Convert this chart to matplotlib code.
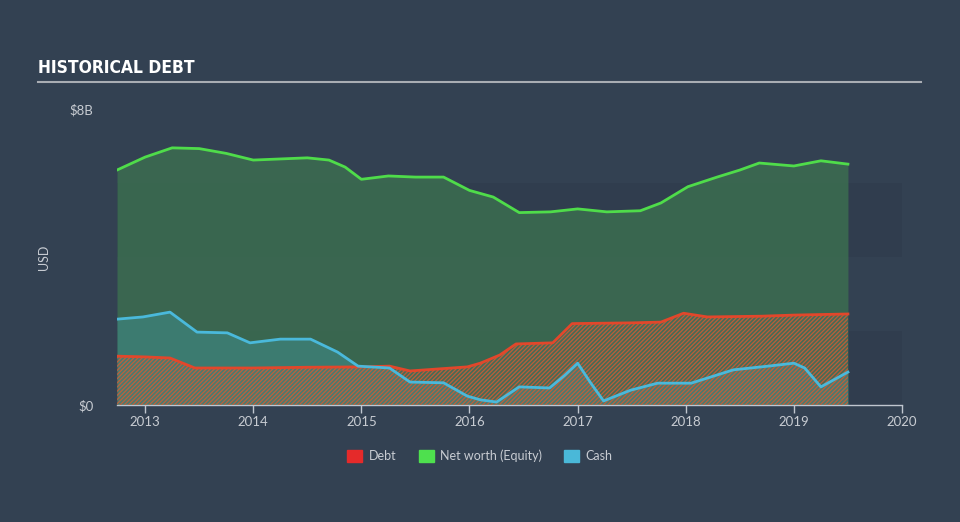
import numpy as np
import matplotlib.pyplot as plt
from matplotlib.patches import Patch

# values in $B
eq_x = [2012.74, 2013.0, 2013.25, 2013.5, 2013.75, 2014.0, 2014.25, 2014.5, 2014.7, 2014.85,
        2015.0, 2015.25, 2015.5, 2015.76, 2016.0, 2016.22, 2016.46, 2016.75, 2017.0, 2017.27,
        2017.58, 2017.77, 2018.02, 2018.29, 2018.5, 2018.68, 2019.0, 2019.25, 2019.5]
equity = [6.35, 6.7, 6.95, 6.93, 6.8, 6.62, 6.65, 6.68, 6.62, 6.43,
          6.1, 6.19, 6.16, 6.16, 5.8, 5.62, 5.2, 5.22, 5.3, 5.22,
          5.25, 5.46, 5.9, 6.16, 6.35, 6.54, 6.46, 6.6, 6.51]

debt_x = [2012.74, 2013.0, 2013.23, 2013.46, 2014.0, 2014.5, 2015.0, 2015.26, 2015.45, 2015.98,
          2016.1, 2016.28, 2016.43, 2016.77, 2016.95, 2017.5, 2017.77, 2017.98, 2018.2, 2018.7,
          2019.0, 2019.5]
debt = [1.32, 1.3, 1.27, 1.0, 1.0, 1.02, 1.03, 1.05, 0.92, 1.03,
        1.13, 1.35, 1.65, 1.68, 2.2, 2.22, 2.24, 2.48, 2.38, 2.4,
        2.43, 2.46]

cash_x = [2012.74, 2012.98, 2013.23, 2013.48, 2013.76, 2013.97, 2014.25, 2014.53, 2014.78, 2014.97,
          2015.26, 2015.45, 2015.76, 2015.98, 2016.1, 2016.25, 2016.46, 2016.74, 2016.88, 2017.0,
          2017.12, 2017.24, 2017.49, 2017.74, 2018.05, 2018.44, 2018.76, 2019.0, 2019.1, 2019.25,
          2019.5]
cash = [2.32, 2.38, 2.51, 1.97, 1.95, 1.68, 1.78, 1.78, 1.43, 1.05,
        1.0, 0.62, 0.6, 0.24, 0.14, 0.08, 0.49, 0.46, 0.8, 1.13,
        0.6, 0.11, 0.4, 0.59, 0.59, 0.95, 1.05, 1.13, 1.0, 0.49,
        0.89]

years = [2013, 2014, 2015, 2016, 2017, 2018, 2019, 2020]

bg = '#334152'
green = '#4fdc4a'
red = '#e2472b'
blue = '#4ab9db'
txt = '#c8ccd2'

plt.rcParams['font.family'] = ['Lato', 'DejaVu Sans']
plt.rcParams['hatch.linewidth'] = 0.9

fig = plt.figure(figsize=(9.6, 5.22), dpi=100, facecolor=bg)
ax = fig.add_axes([117 / 960, 117 / 522, 785 / 960, 296 / 522])
ax.set_facecolor(bg)
ax.set_xlim(2012.74, 2020)
ax.set_ylim(0, 8)

# faint background bands
for lo in [0, 4]:
    ax.axhspan(lo, lo + 2, color='#2c3847', alpha=0.35, lw=0, zorder=0)

ax.fill_between(eq_x, 0, equity, color='#3b6b50', alpha=0.9, lw=0, zorder=1)
ax.fill_between(cash_x, 0, cash, color='#3f8e8c', alpha=0.55, lw=0, zorder=2)
ax.fill_between(debt_x, 0, debt, facecolor=(0.5, 0.5, 0.45, 0.2), edgecolor=(0.82, 0.36, 0.2, 0.85),
                hatch='////////', lw=0, zorder=3)

ax.plot(eq_x, equity, color=green, lw=2, zorder=5)
ax.plot(debt_x, debt, color=red, lw=2, zorder=5)
ax.plot(cash_x, cash, color=blue, lw=2, zorder=6)

for s in ['top', 'right', 'left']:
    ax.spines[s].set_visible(False)
ax.spines['bottom'].set_color('#c0c6cf')
ax.spines['bottom'].set_linewidth(1)

ax.set_xticks(years)
ax.set_xticklabels([str(y) for y in years], color=txt, fontsize=9.5)
ax.tick_params(axis='x', colors='#c0c6cf', length=6, width=1, labelcolor=txt, pad=2)
ax.set_yticks([0, 8])
ax.set_yticklabels(['$0', '$8B'], color=txt, fontsize=9.5)
ax.tick_params(axis='y', length=0, pad=17)
ax.set_ylabel('USD', color=txt, fontsize=9, labelpad=14)

fig.text(38 / 960, 1 - 68 / 522, 'HISTORICAL DEBT', color='white', fontsize=12.5, fontweight='bold',
         family=['DejaVu Sans'], fontstretch='condensed', va='center', ha='left')
fig.add_artist(plt.Line2D([38 / 960, 921 / 960], [1 - 82 / 522, 1 - 82 / 522], color='#a9adb3', lw=1.5))

handles = [Patch(color='#e52a2a', label='Debt'),
           Patch(color='#4ee04e', label='Net worth (Equity)'),
           Patch(color='#4ab8d8', label='Cash')]
fig.legend(handles=handles, loc='center', bbox_to_anchor=(0.5, 1 - 456 / 522), ncol=3, frameon=False,
           fontsize=9, labelcolor=txt, handlelength=1.2, handleheight=1.0, handletextpad=0.5, columnspacing=1.8)

fig.savefig('out.png', dpi=100, facecolor=bg)
